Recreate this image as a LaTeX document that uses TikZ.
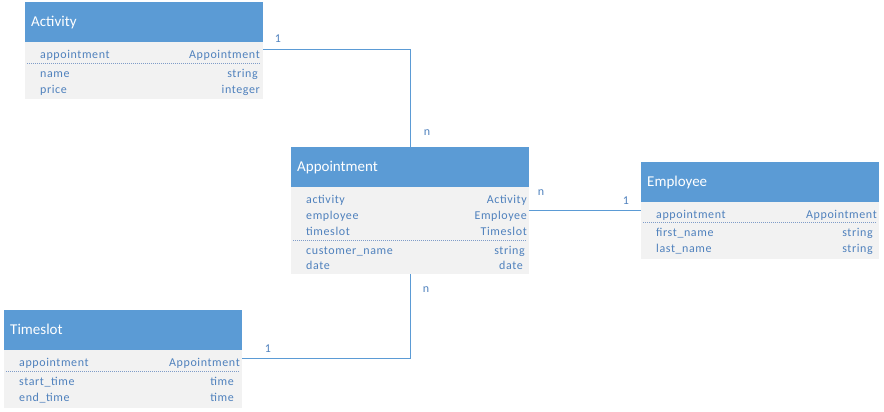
\documentclass[tikz,border=0pt]{standalone}
\usepackage{fontspec}
\usetikzlibrary{calc}
\setmainfont{Carlito}
\newfontfamily\bodyf[LetterSpace=5]{Carlito}
\definecolor{hdr}{HTML}{5B9BD5}
\definecolor{bodyc}{HTML}{F2F2F2}
\definecolor{txt}{HTML}{4F81BD}
\definecolor{sep}{HTML}{7F9CC8}
\begin{document}
\begin{tikzpicture}[x=1pt,y=-1pt,
  hbox/.style={rectangle,fill=hdr,draw=none,minimum width=238pt,minimum height=40pt,anchor=north west,inner sep=0pt},
  bbox/.style={rectangle,fill=bodyc,draw=none,minimum width=238pt,anchor=north west,inner sep=0pt},
  htext/.style={anchor=mid west,text=white,font=\fontsize{15}{18}\selectfont,inner sep=0pt,yshift=-2pt},
  lt/.style={anchor=mid west,text=txt,font=\bodyf\fontsize{12}{14}\selectfont,inner sep=0pt,yshift=-2pt},
  rt/.style={anchor=mid east,text=txt,font=\bodyf\fontsize{12}{14}\selectfont,inner sep=0pt,yshift=-2pt},
  sepline/.style={draw=sep,line width=0.8pt,dash pattern=on 1pt off 1pt},
  conn/.style={draw=hdr,line width=1pt},
  card/.style={text=txt,font=\bodyf\fontsize{12}{14}\selectfont,inner sep=0pt,yshift=-2pt}]
\useasboundingbox (0,0) rectangle (884,412);
% Activity
\node[hbox] (actH) at (25,2) {};
\node[bbox,minimum height=57pt] (actB) at (25,42) {};
\node[htext] (actT) at (31,22) {Activity};
\node[lt] (a1) at (40,54) {appointment};
\node[rt] (a1t) at (260,54) {Appointment};
\draw[sepline] (27,63) -- (260,63);
\node[lt] (a2) at (40,73) {name};
\node[rt] (a2t) at (258,73) {string};
\node[lt] (a3) at (40,89) {price};
\node[rt] (a3t) at (260,89) {integer};
% Appointment
\node[hbox] (appH) at (291,147) {};
\node[bbox,minimum height=87pt] (appB) at (291,187) {};
\node[htext] (appT) at (297,167) {Appointment};
\node[lt] (p1) at (306,199) {activity};
\node[rt] (p1t) at (527,199) {Activity};
\node[lt] (p2) at (306,215) {employee};
\node[rt] (p2t) at (527,215) {Employee};
\node[lt] (p3) at (306,231) {timeslot};
\node[rt] (p3t) at (527,231) {Timeslot};
\draw[sepline] (293,240) -- (527,240);
\node[lt] (p4) at (306,250) {customer\_name};
\node[rt] (p4t) at (525,250) {string};
\node[lt] (p5) at (306,265) {date};
\node[rt] (p5t) at (523,265) {date};
% Employee
\node[hbox] (empH) at (641,162) {};
\node[bbox,minimum height=57pt] (empB) at (641,202) {};
\node[htext] (empT) at (647,182) {Employee};
\node[lt] (e1) at (656,214) {appointment};
\node[rt] (e1t) at (877,214) {Appointment};
\draw[sepline] (643,222) -- (877,222);
\node[lt] (e2) at (656,232) {first\_name};
\node[rt] (e2t) at (873,232) {string};
\node[lt] (e3) at (656,248) {last\_name};
\node[rt] (e3t) at (873,248) {string};
% Timeslot
\node[hbox] (tsH) at (4,310) {};
\node[bbox,minimum height=58pt] (tsB) at (4,350) {};
\node[htext] (tsT) at (10,330) {Timeslot};
\node[lt] (t1) at (19,362) {appointment};
\node[rt] (t1t) at (240,362) {Appointment};
\draw[sepline] (6,371) -- (240,371);
\node[lt] (t2) at (19,381) {start\_time};
\node[rt] (t2t) at (234,381) {time};
\node[lt] (t3) at (19,397) {end\_time};
\node[rt] (t3t) at (234,397) {time};
% connectors
\coordinate (c1) at ($(actB.north east)+(0,8)$);
\coordinate (c2) at ($(tsB.north east)+(0,8)$);
\coordinate (c3) at ($(empB.north west)+(0,8)$);
\draw[conn] (c1) -| (appH.north);
\draw[conn] (c2) -| (appB.south);
\draw[conn] (appB.east |- c3) -- (c3);
% cardinalities
\node[card] (k1) at (278,37) {1};
\node[card] (k2) at (427,131) {n};
\node[card] (k3) at (541,191) {n};
\node[card] (k4) at (626,199) {1};
\node[card] (k5) at (268,347) {1};
\node[card] (k6) at (426,288) {n};
\end{tikzpicture}
\end{document}
